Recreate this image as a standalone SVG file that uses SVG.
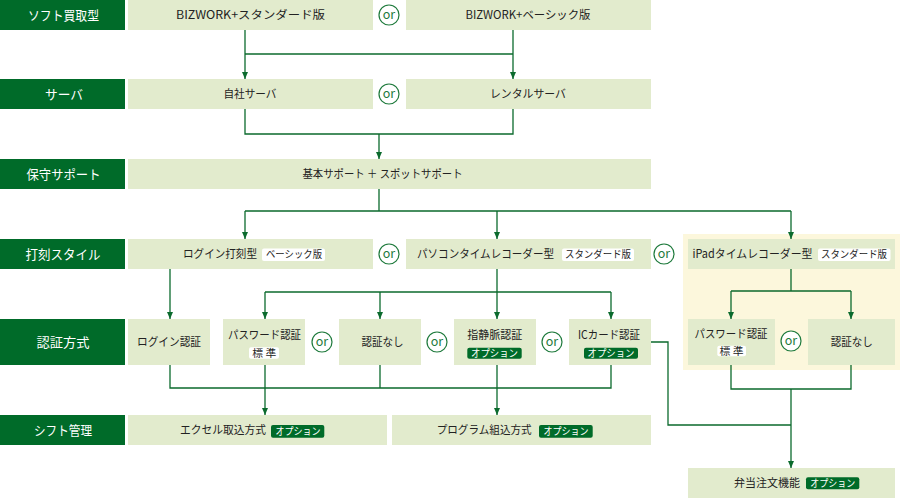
<svg xmlns="http://www.w3.org/2000/svg" width="900" height="498" viewBox="0 0 900 498">
<defs>
<marker id="arr" markerWidth="8" markerHeight="6" refX="7" refY="3" orient="auto" markerUnits="userSpaceOnUse"><path d="M0,0 L7,3 L0,6 z" fill="#0b6a2d"/></marker>
<style>
text{font-family:"Noto Sans CJK JP","Noto Sans",sans-serif}
.lab{fill:#006b29}
.labt{fill:#fff;font-size:13px;text-anchor:middle}
.box{fill:#e2ebcd}
.t{fill:#222;font-size:11.5px;text-anchor:middle}
.ts{fill:#222;font-size:11.5px}
.bw{fill:#fff}
.bg{fill:#006b29}
.bwt{fill:#222;font-size:10px;text-anchor:middle}
.bgt{fill:#fff;font-size:10px;text-anchor:middle}
.orc{fill:#fff;stroke:#1e7a3c;stroke-width:1.2}
.ort{fill:#1e7a3c;font-size:12.5px;text-anchor:middle}
.c{fill:none;stroke:#0b6a2d;stroke-width:1.3}
.a{marker-end:url(#arr)}
</style>
</defs>
<rect width="900" height="498" fill="#fff"/>
<rect x="683" y="234" width="217" height="136" fill="#fcf7dc"/>

<g id="labels">
<g id="lab-soft"><rect class="lab" x="0" y="0" width="125" height="30"/><text class="labt" x="63.5" y="19.5" textLength="71" lengthAdjust="spacingAndGlyphs">ソフト買取型</text></g>
<g id="lab-server"><rect class="lab" x="0" y="79" width="125" height="30"/><text class="labt" x="64" y="98.5" textLength="38" lengthAdjust="spacingAndGlyphs">サーバ</text></g>
<g id="lab-support"><rect class="lab" x="0" y="159" width="125" height="30"/><text class="labt" x="63.5" y="178.5" textLength="74" lengthAdjust="spacingAndGlyphs">保守サポート</text></g>
<g id="lab-stamp"><rect class="lab" x="0" y="239" width="125" height="30"/><text class="labt" x="63" y="258.5" textLength="75" lengthAdjust="spacingAndGlyphs">打刻スタイル</text></g>
<g id="lab-auth"><rect class="lab" x="0" y="319" width="125" height="46"/><text class="labt" x="63" y="346.5" textLength="53" lengthAdjust="spacingAndGlyphs">認証方式</text></g>
<g id="lab-shift"><rect class="lab" x="0" y="415" width="125" height="30"/><text class="labt" x="63" y="434.5" textLength="58" lengthAdjust="spacingAndGlyphs">シフト管理</text></g>
</g>

<g id="n-bizstd"><rect class="box" x="128" y="0" width="245" height="30"/><text class="t" x="250.5" y="19.2" textLength="149" lengthAdjust="spacingAndGlyphs">BIZWORK+スタンダード版</text></g>
<g id="n-bizbasic"><rect class="box" x="406" y="0" width="245" height="30"/><text class="t" x="528" y="19.2" textLength="125" lengthAdjust="spacingAndGlyphs">BIZWORK+ベーシック版</text></g>
<g id="n-own"><rect class="box" x="128" y="79" width="245" height="30"/><text class="t" x="250" y="98.2" textLength="53" lengthAdjust="spacingAndGlyphs">自社サーバ</text></g>
<g id="n-rental"><rect class="box" x="406" y="79" width="245" height="30"/><text class="t" x="528" y="98.2" textLength="76" lengthAdjust="spacingAndGlyphs">レンタルサーバ</text></g>
<g id="n-support"><rect class="box" x="128" y="159" width="523" height="30"/><text class="t" x="382.5" y="178.2" textLength="160" lengthAdjust="spacingAndGlyphs">基本サポート ＋ スポットサポート</text></g>

<g id="n-login"><rect class="box" x="128" y="239" width="245" height="30"/><text class="ts" x="183" y="258.2" textLength="74" lengthAdjust="spacingAndGlyphs">ログイン打刻型</text><rect class="bw" x="262" y="248.5" width="63" height="12.5" rx="2"/><text class="bwt" x="294" y="258.3" textLength="56" lengthAdjust="spacingAndGlyphs">ベーシック版</text></g>
<g id="n-pc"><rect class="box" x="406" y="239" width="245" height="30"/><text class="ts" x="417" y="258.2" textLength="137" lengthAdjust="spacingAndGlyphs">パソコンタイムレコーダー型</text><rect class="bw" x="562" y="248.5" width="72" height="12.5" rx="2"/><text class="bwt" x="598" y="258.3" textLength="66" lengthAdjust="spacingAndGlyphs">スタンダード版</text></g>
<g id="n-ipad"><rect class="box" x="688" y="239" width="207" height="30"/><text class="ts" x="692.5" y="258.2" textLength="120" lengthAdjust="spacingAndGlyphs">iPadタイムレコーダー型</text><rect class="bw" x="818" y="248.5" width="72.5" height="12.5" rx="2"/><text class="bwt" x="854" y="258.3" textLength="66" lengthAdjust="spacingAndGlyphs">スタンダード版</text></g>

<g id="n-loginauth"><rect class="box" x="128" y="319" width="82" height="46"/><text class="t" x="169" y="346.2" textLength="64" lengthAdjust="spacingAndGlyphs">ログイン認証</text></g>
<g id="n-pw"><rect class="box" x="223" y="319" width="82" height="46"/><text class="t" x="264.5" y="339" textLength="73" lengthAdjust="spacingAndGlyphs">パスワード認証</text><rect class="bw" x="249" y="347.3" width="30" height="11.5" rx="2"/><text class="bwt" x="264.3" y="356.8" textLength="24" lengthAdjust="spacingAndGlyphs">標 準</text></g>
<g id="n-none"><rect class="box" x="339" y="319" width="82" height="46"/><text class="t" x="382.5" y="346.2" textLength="42" lengthAdjust="spacingAndGlyphs">認証なし</text></g>
<g id="n-finger"><rect class="box" x="454" y="319" width="82" height="46"/><text class="t" x="494.7" y="339" textLength="55" lengthAdjust="spacingAndGlyphs">指静脈認証</text><rect class="bg" x="467.3" y="347.7" width="54.4" height="11" rx="2"/><text class="bgt" x="494.5" y="357" textLength="47" lengthAdjust="spacingAndGlyphs">オプション</text></g>
<g id="n-ic"><rect class="box" x="569" y="319" width="82" height="46"/><text class="t" x="609" y="339" textLength="62" lengthAdjust="spacingAndGlyphs">ICカード認証</text><rect class="bg" x="584" y="347.7" width="54" height="11" rx="2"/><text class="bgt" x="611" y="357" textLength="47" lengthAdjust="spacingAndGlyphs">オプション</text></g>
<g id="n-ipadpw"><rect class="box" x="688" y="319" width="87" height="46"/><text class="t" x="731" y="338" textLength="73" lengthAdjust="spacingAndGlyphs">パスワード認証</text><rect class="bw" x="717.3" y="345.7" width="28.7" height="10.5" rx="2"/><text class="bwt" x="731.6" y="354.8" textLength="24" lengthAdjust="spacingAndGlyphs">標 準</text></g>
<g id="n-ipadnone"><rect class="box" x="808" y="319" width="87" height="46"/><text class="t" x="851.7" y="345.6" textLength="42" lengthAdjust="spacingAndGlyphs">認証なし</text></g>

<g id="n-excel"><rect class="box" x="128" y="415" width="259" height="30"/><text class="ts" x="180" y="434.2" textLength="86" lengthAdjust="spacingAndGlyphs">エクセル取込方式</text><rect class="bg" x="271" y="425" width="53.3" height="12.7" rx="2"/><text class="bgt" x="298" y="435" textLength="45" lengthAdjust="spacingAndGlyphs">オプション</text></g>
<g id="n-prog"><rect class="box" x="392" y="415" width="259" height="30"/><text class="ts" x="436.7" y="434.2" textLength="95" lengthAdjust="spacingAndGlyphs">プログラム組込方式</text><rect class="bg" x="539" y="425" width="53.7" height="12.7" rx="2"/><text class="bgt" x="566" y="435" textLength="45" lengthAdjust="spacingAndGlyphs">オプション</text></g>
<g id="n-bento"><rect class="box" x="688" y="468" width="207" height="30"/><text class="ts" x="734" y="487.2" textLength="66" lengthAdjust="spacingAndGlyphs">弁当注文機能</text><rect class="bg" x="806" y="477.3" width="53.3" height="12" rx="2"/><text class="bgt" x="832.7" y="487" textLength="45" lengthAdjust="spacingAndGlyphs">オプション</text></g>

<g id="ors">
<circle class="orc" cx="389" cy="15" r="10"/><text class="ort" x="389" y="19.2">or</text>
<circle class="orc" cx="389" cy="94" r="10"/><text class="ort" x="389" y="98.2">or</text>
<circle class="orc" cx="389" cy="254" r="10"/><text class="ort" x="389" y="258.2">or</text>
<circle class="orc" cx="664" cy="254" r="10"/><text class="ort" x="664" y="258.2">or</text>
<circle class="orc" cx="322" cy="342" r="10"/><text class="ort" x="322" y="346.2">or</text>
<circle class="orc" cx="437" cy="342" r="10"/><text class="ort" x="437" y="346.2">or</text>
<circle class="orc" cx="552" cy="342" r="10"/><text class="ort" x="552" y="346.2">or</text>
<circle class="orc" cx="791" cy="341" r="10"/><text class="ort" x="791" y="345.2">or</text>
</g>

<g id="connectors">
<path class="c" d="M245,54 H513"/>
<path class="c a" d="M245,30 V79"/>
<path class="c a" d="M513,30 V79"/>
<path class="c" d="M245,109 V134 H513 V109"/>
<path class="c a" d="M379,134 V159"/>
<path class="c" d="M379,189 V211 M245,211 H791"/>
<path class="c a" d="M245,211 V239"/>
<path class="c a" d="M497,211 V239"/>
<path class="c a" d="M791,211 V239"/>
<path class="c a" d="M170,269 V319"/>
<path class="c a" d="M497,269 V319"/>
<path class="c" d="M265,292 H611"/>
<path class="c a" d="M265,292 V319"/>
<path class="c a" d="M380,292 V319"/>
<path class="c a" d="M611,292 V319"/>
<path class="c" d="M791,269 V291 M731,291 H851"/>
<path class="c a" d="M731,291 V319"/>
<path class="c a" d="M851,291 V319"/>
<path class="c" d="M170,365 V388 H611 V365 M380,365 V388"/>
<path class="c a" d="M265,365 V415"/>
<path class="c a" d="M497,365 V415"/>
<path class="c" d="M651,342 H668 V425 H791"/>
<path class="c" d="M731,365 V389 H851 V365"/>
<path class="c a" d="M791,389 V468"/>
</g>
</svg>
